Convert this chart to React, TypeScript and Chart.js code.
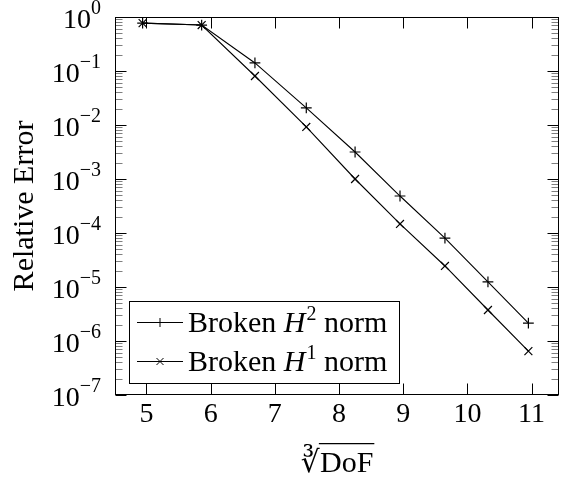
import React, { useEffect, useRef } from 'react';
import { Chart, registerables } from 'chart.js';

Chart.register(...registerables);

// ---- data ----
const cubeRootDoF = [4.94, 5.86, 6.69, 7.49, 8.25, 8.95, 9.65, 10.32, 10.95];
const brokenH2 = [0.77, 0.71, 0.141, 0.0207, 3.16e-3, 4.84e-4, 8.07e-5, 1.24e-5, 2.15e-6];
const brokenH1 = [0.77, 0.71, 0.0808, 9.2e-3, 1.0e-3, 1.47e-4, 2.45e-5, 3.75e-6, 6.5e-7];
const xTickValues = [5, 6, 7, 8, 9, 10, 11];
const yTickExponents = [0, -1, -2, -3, -4, -5, -6, -7];
const legendEntries = [
  { prefix: 'Broken ', symbol: 'H', sup: '2', suffix: ' norm', marker: 'cross' },
  { prefix: 'Broken ', symbol: 'H', sup: '1', suffix: ' norm', marker: 'crossRot' },
];
const xTitleRadical = '\u221B';
const xTitleText = 'DoF';
const yTitle = 'Relative Error';

const FONT = '"Liberation Serif", "DejaVu Serif", serif';
const TICK_FS = 28;
const TEXT_FS = 30;
const SUP = 20;

function drawMarker(ctx: CanvasRenderingContext2D, kind: string, x: number, y: number, r: number) {
  ctx.beginPath();
  if (kind === 'cross') {
    ctx.moveTo(x - r, y); ctx.lineTo(x + r, y);
    ctx.moveTo(x, y - r); ctx.lineTo(x, y + r);
  } else {
    ctx.moveTo(x - r, y - r); ctx.lineTo(x + r, y + r);
    ctx.moveTo(x - r, y + r); ctx.lineTo(x + r, y - r);
  }
  ctx.stroke();
}

const pgfPlugin = {
  id: 'pgfDecor',
  afterDatasetsDraw(chart: any) {
    const { ctx, chartArea: a, scales } = chart;
    const xs = scales.x, ys = scales.y;
    ctx.save();
    const L = Math.round(a.left) + 0.5;
    const R = Math.round(a.right) - 0.5;
    const T = Math.round(a.top) + 0.5;
    const B = Math.round(a.bottom) - 0.5;
    // frame
    ctx.strokeStyle = '#000';
    ctx.lineWidth = 1;
    ctx.strokeRect(L, T, R - L, B - T);
    // major ticks (inward)
    const MAJ = 11, MIN = 7;
    ctx.beginPath();
    for (const v of xTickValues) {
      const px = Math.round(xs.getPixelForValue(v)) + 0.5;
      ctx.moveTo(px, B); ctx.lineTo(px, B - MAJ);
      ctx.moveTo(px, T); ctx.lineTo(px, T + MAJ);
    }
    for (const e of yTickExponents) {
      const py = Math.round(ys.getPixelForValue(Math.pow(10, e))) + 0.5;
      ctx.moveTo(L, py); ctx.lineTo(L + MAJ, py);
      ctx.moveTo(R, py); ctx.lineTo(R - MAJ, py);
    }
    ctx.stroke();
    // y minor ticks
    ctx.strokeStyle = 'rgba(0,0,0,0.5)';
    ctx.beginPath();
    for (const e of yTickExponents) {
      if (e === 0) continue;
      for (let m = 2; m <= 9; m++) {
        const py = Math.round(ys.getPixelForValue(m * Math.pow(10, e))) + 0.5;
        ctx.moveTo(L, py); ctx.lineTo(L + MIN, py);
        ctx.moveTo(R, py); ctx.lineTo(R - MIN, py);
      }
    }
    ctx.stroke();

    // y tick labels 10^e
    ctx.fillStyle = '#000';
    ctx.textBaseline = 'middle';
    const labelRight = a.left - 14;
    for (const e of yTickExponents) {
      const py = ys.getPixelForValue(Math.pow(10, e));
      const exp = e === 0 ? '0' : '\u2212' + String(-e);
      ctx.font = `${SUP}px ${FONT}`;
      const ew = ctx.measureText(exp).width;
      ctx.textAlign = 'left';
      ctx.fillText(exp, labelRight - ew, py - 8);
      ctx.font = `${TICK_FS}px ${FONT}`;
      ctx.textAlign = 'right';
      ctx.fillText('10', labelRight - ew, py + 4);
    }

    // x title: cube root of DoF with vinculum
    ctx.font = `${TEXT_FS}px ${FONT}`;
    ctx.textAlign = 'left';
    ctx.textBaseline = 'alphabetic';
    const wr = ctx.measureText(xTitleRadical).width;
    const wt = ctx.measureText(xTitleText).width;
    const cx = (a.left + a.right) / 2;
    const x0 = cx - (wr + wt) / 2;
    const base = 472;
    ctx.fillText(xTitleRadical, x0, base);
    ctx.fillText(xTitleText, x0 + wr, base);
    const rm = ctx.measureText(xTitleRadical);
    const topY = base - (rm.actualBoundingBoxAscent || 24);
    ctx.strokeStyle = '#000';
    ctx.lineWidth = 1.2;
    ctx.beginPath();
    ctx.moveTo(x0 + (rm.actualBoundingBoxRight || wr) - 1, topY + 0.6);
    ctx.lineTo(x0 + wr + wt + 1, topY + 0.6);
    ctx.stroke();

    // y title
    ctx.textAlign = 'center';
    ctx.textBaseline = 'middle';
    ctx.save();
    ctx.translate(25, (a.top + a.bottom) / 2);
    ctx.rotate(-Math.PI / 2);
    ctx.fillText(yTitle, 0, 0);
    ctx.restore();

    // legend
    const bx = 129.5, by = 301.5, bw = 270, bh = 82;
    ctx.fillStyle = '#fff';
    ctx.fillRect(bx, by, bw, bh);
    ctx.strokeStyle = '#000';
    ctx.lineWidth = 1;
    ctx.strokeRect(bx, by, bw, bh);
    const rows = [322, 361];
    legendEntries.forEach((ent, i) => {
      const y = rows[i];
      ctx.strokeStyle = '#000';
      ctx.lineWidth = 1;
      ctx.beginPath();
      ctx.moveTo(137, y + 0.5); ctx.lineTo(183, y + 0.5);
      ctx.stroke();
      drawMarker(ctx, ent.marker, 160, y + 0.5, ent.marker === 'cross' ? 4.5 : 3.5);
      ctx.fillStyle = '#000';
      ctx.textAlign = 'left';
      ctx.textBaseline = 'alphabetic';
      let x = 188;
      const lb = y + 10;
      ctx.font = `${TEXT_FS}px ${FONT}`;
      ctx.fillText(ent.prefix, x, lb);
      x += ctx.measureText(ent.prefix).width;
      ctx.font = `italic ${TEXT_FS}px ${FONT}`;
      ctx.fillText(ent.symbol, x, lb);
      x += ctx.measureText(ent.symbol).width + 1;
      ctx.font = `${SUP}px ${FONT}`;
      ctx.fillText(ent.sup, x, lb - 12);
      x += ctx.measureText(ent.sup).width;
      ctx.font = `${TEXT_FS}px ${FONT}`;
      ctx.fillText(ent.suffix, x, lb);
    });
    ctx.restore();
  },
};

export default function App() {
  const ref = useRef<HTMLCanvasElement>(null);
  useEffect(() => {
    if (!ref.current) return;
    const chart = new Chart(ref.current, {
      type: 'line',
      data: {
        datasets: [
          {
            label: 'Broken H2 norm',
            data: cubeRootDoF.map((x, i) => ({ x, y: brokenH2[i] })),
            borderColor: '#000',
            backgroundColor: '#000',
            borderWidth: 1.1,
            pointStyle: 'cross',
            pointRadius: 5.4,
            pointBorderWidth: 1.2,
            pointBorderColor: '#000',
            tension: 0,
          },
          {
            label: 'Broken H1 norm',
            data: cubeRootDoF.map((x, i) => ({ x, y: brokenH1[i] })),
            borderColor: '#000',
            backgroundColor: '#000',
            borderWidth: 1.1,
            pointStyle: 'crossRot',
            pointRadius: 5.6,
            pointBorderWidth: 1.2,
            pointBorderColor: '#000',
            tension: 0,
          },
        ],
      },
      options: {
        responsive: false,
        animation: false,
        devicePixelRatio: 1,
        layout: { padding: { top: 17, right: 1, left: 0, bottom: 0 } },
        plugins: { legend: { display: false }, tooltip: { enabled: false }, title: { display: false } },
        scales: {
          x: {
            type: 'linear',
            min: 4.51,
            max: 11.43,
            grid: { display: false, drawTicks: false },
            border: { display: false },
            ticks: {
              color: '#000',
              font: { family: FONT, size: TICK_FS },
              padding: 3,
              maxRotation: 0,
              autoSkip: false,
              callback: (v: any) => String(v),
            },
            afterBuildTicks: (s: any) => {
              s.ticks = xTickValues.map((v) => ({ value: v }));
            },
            afterFit: (s: any) => {
              s.height = 84;
            },
          },
          y: {
            type: 'logarithmic',
            min: 1e-7,
            max: 1,
            grid: { display: false, drawTicks: false },
            border: { display: false },
            ticks: { display: false },
            afterBuildTicks: (s: any) => {
              s.ticks = yTickExponents.map((e) => ({ value: Math.pow(10, e) }));
            },
            afterFit: (s: any) => {
              s.width = 115;
            },
          },
        },
      },
      plugins: [pgfPlugin],
    } as any);
    return () => chart.destroy();
  }, []);
  return (
    <div style={{ position: 'absolute', left: 0, top: 0, width: 566, height: 479, background: '#fff' }}>
      <canvas ref={ref} width={566} height={479} style={{ display: 'block', width: 566, height: 479 }} />
    </div>
  );
}
